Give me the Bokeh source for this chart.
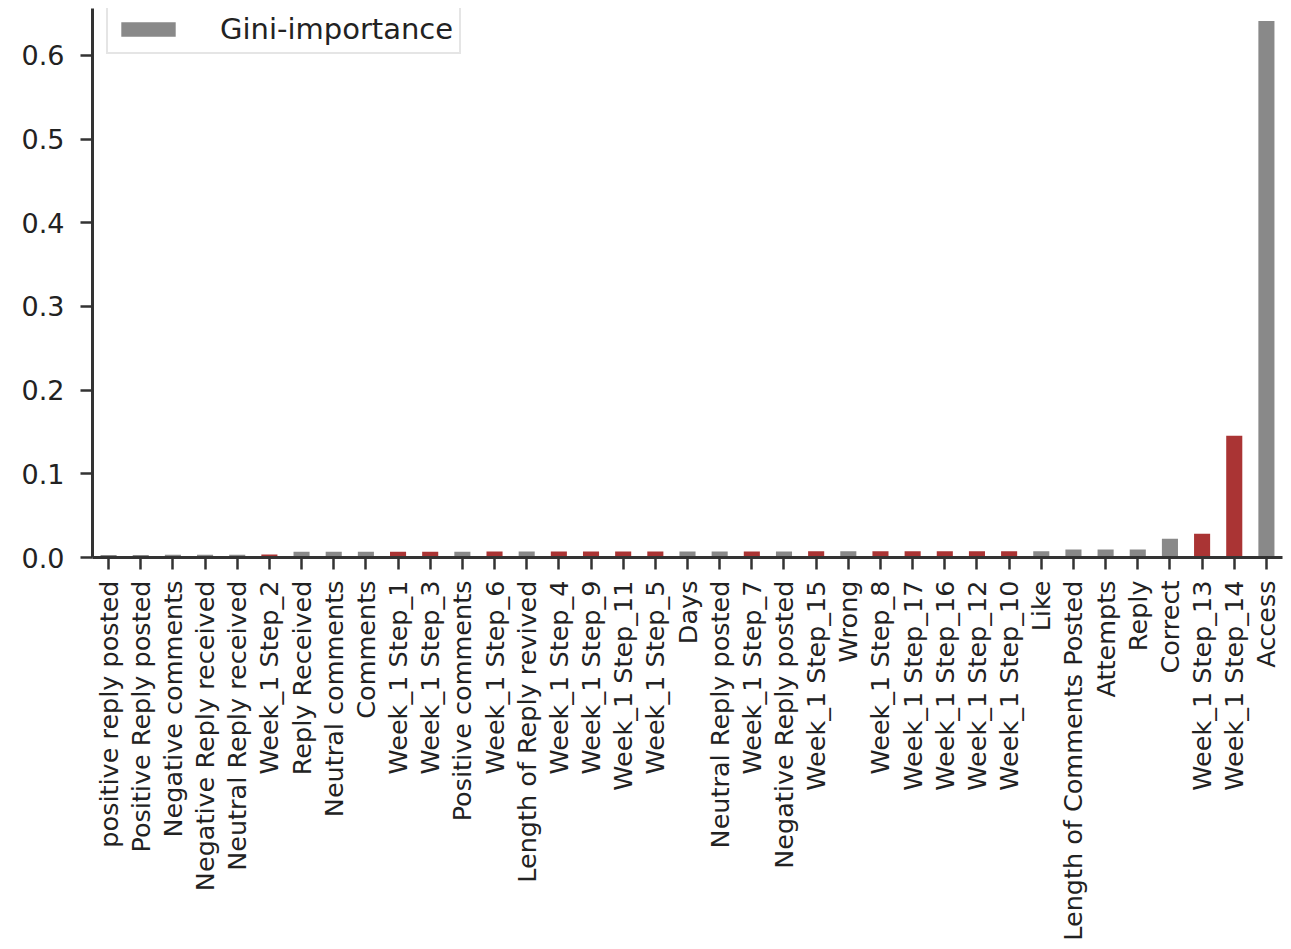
import math

from bokeh.embed import file_html
from bokeh.models import (ColumnDataSource, FactorRange, FixedTicker, Legend,
                          LegendItem, NumeralTickFormatter, Range1d)
from bokeh.plotting import figure
from bokeh.resources import INLINE

# Feature importances of the random forest, sorted ascending
features = [
    "positive reply posted", "Positive Reply posted", "Negative comments",
    "Negative Reply received", "Neutral Reply received", "Week_1 Step_2",
    "Reply Received", "Neutral comments", "Comments", "Week_1 Step_1",
    "Week_1 Step_3", "Positive comments", "Week_1 Step_6",
    "Length of Reply revived", "Week_1 Step_4", "Week_1 Step_9",
    "Week_1 Step_11", "Week_1 Step_5", "Days", "Neutral Reply posted",
    "Week_1 Step_7", "Negative Reply posted", "Week_1 Step_15", "Wrong",
    "Week_1 Step_8", "Week_1 Step_17", "Week_1 Step_16", "Week_1 Step_12",
    "Week_1 Step_10", "Like", "Length of Comments Posted", "Attempts",
    "Reply", "Correct", "Week_1 Step_13", "Week_1 Step_14", "Access",
]
importance = [
    0.0030, 0.0031, 0.0032, 0.0032, 0.0033, 0.0036,
    0.0068, 0.0069, 0.0069, 0.0070, 0.0070, 0.0070, 0.0071,
    0.0071, 0.0071, 0.0072, 0.0072, 0.0072, 0.0072, 0.0073,
    0.0073, 0.0073, 0.0074, 0.0074, 0.0074, 0.0075, 0.0075, 0.0075,
    0.0076, 0.0076, 0.0095, 0.0096, 0.0097, 0.0225, 0.0285,
    0.1455, 0.6410,
]
y_ticks = [0.0, 0.1, 0.2, 0.3, 0.4, 0.5, 0.6]

GRAY = "#898989"
RED = "#aa3434"
AXIS = "#333333"
TEXT = "#222222"
FONT = "DejaVu Sans"

is_step = ["Step" in f for f in features]
step_src = ColumnDataSource(dict(
    x=[f for f, s in zip(features, is_step) if s],
    top=[v for v, s in zip(importance, is_step) if s],
))
other_src = ColumnDataSource(dict(
    x=[f for f, s in zip(features, is_step) if not s],
    top=[v for v, s in zip(importance, is_step) if not s],
))

p = figure(
    width=1291, height=949,
    x_range=FactorRange(factors=features, range_padding=0),
    y_range=Range1d(0, 0.656),
    output_backend="svg", toolbar_location=None,
    min_border_left=92, min_border_right=9,
    min_border_top=8, min_border_bottom=392,
)

r_other = p.vbar(x="x", top="top", width=0.5, source=other_src,
                 fill_color=GRAY, line_color=None)
p.vbar(x="x", top="top", width=0.5, source=step_src,
       fill_color=RED, line_color=None)

p.xgrid.visible = False
p.ygrid.visible = False
p.outline_line_color = None
p.background_fill_color = "white"
p.border_fill_color = "white"

for ax in (p.xaxis[0], p.yaxis[0]):
    ax.axis_line_color = AXIS
    ax.axis_line_width = 3
    ax.major_tick_line_color = AXIS
    ax.major_tick_line_width = 2.5
    ax.major_tick_in = 0
    ax.major_tick_out = 12
    ax.minor_tick_line_color = None
    ax.major_label_text_font = FONT
    ax.major_label_text_color = TEXT

p.xaxis.major_label_orientation = math.pi / 2
p.xaxis.major_label_text_font_size = "25.5px"
p.xaxis.major_label_standoff = 11

p.yaxis.ticker = FixedTicker(ticks=y_ticks)
p.yaxis.formatter = NumeralTickFormatter(format="0.0")
p.yaxis.major_label_text_font_size = "27px"
p.yaxis.major_label_standoff = 16

legend = Legend(
    items=[LegendItem(label="Gini-importance", renderers=[r_other])],
    location=(14, 503),
    glyph_width=68, glyph_height=18,
    label_standoff=38, padding=6, spacing=0,
    label_text_font=FONT, label_text_font_size="29px",
    label_text_color=TEXT,
    border_line_color="#cccccc", border_line_width=2,
    background_fill_color="white", background_fill_alpha=1,
)
p.add_layout(legend)

with open("out.html", "w") as fh:
    fh.write(file_html(p, INLINE))
